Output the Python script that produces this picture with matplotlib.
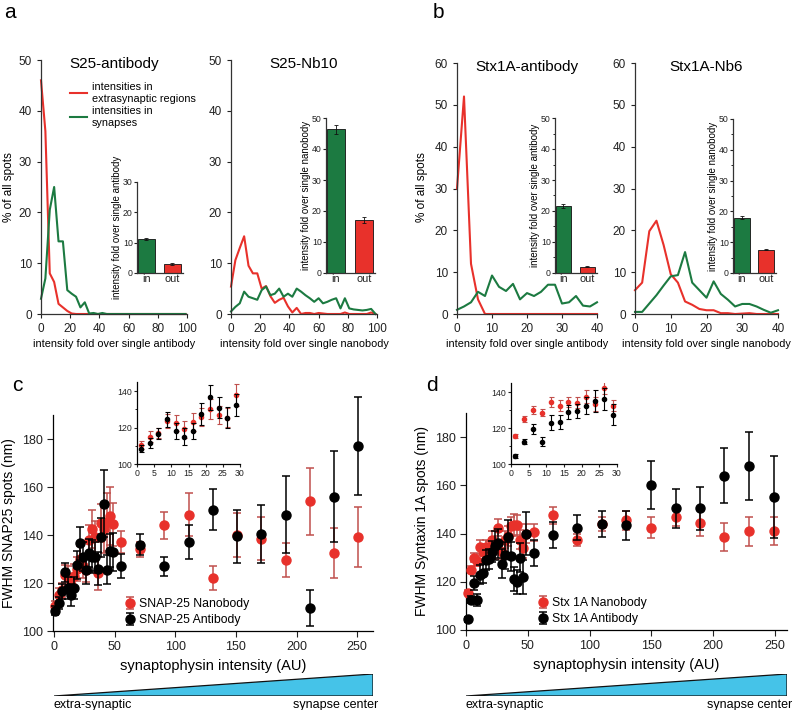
import numpy as np
import matplotlib.pyplot as plt
from matplotlib.lines import Line2D

plt.rcParams['font.family'] = ['Liberation Sans', 'DejaVu Sans']
plt.rcParams['axes.linewidth'] = 0.9

W, H = 800, 710
RED = '#e8312b'
GREEN = '#1c7a41'
ERR_RED = '#c0504d'

# ---------------- histogram data (panel a, b) ----------------
a_bins = np.arange(0, 100, 3)
s25_ab_extra = [46, 36, 8, 6.3, 2, 1.3, 0.6, 0.1, 0, 0, 0, 0, 0, 0, 0, 0, 0,
                0, 0, 0, 0, 0, 0, 0, 0, 0, 0, 0, 0, 0, 0, 0, 0, 0]
s25_ab_syn = [3, 7, 20.5, 25, 14.3, 14.3, 4.7, 4, 3.4, 1.3, 2.3, 0.1, 0.2, 0, 0.2, 0, 0,
              0, 0, 0, 0, 0, 0, 0, 0, 0, 0, 0, 0, 0, 0, 0, 0, 0]
s25_nb_extra = [5.4, 10.6, 13, 15.3, 9.5, 8, 8, 5, 5.5, 3.5, 2.2, 2.8, 3.2, 1.5, 0.3, 1.2, 0,
                0.2, 0.2, 0, 0.2, 0.1, 0, 0, 0, 0, 0.3, 0, 0, 0, 0, 0, 0.3, 0]
s25_nb_syn = [0.5, 1.4, 2.1, 4.4, 3.4, 3.1, 2.8, 4.7, 5.4, 3.7, 4, 5, 3.4, 4, 3.4, 5, 4.4,
              3.7, 3.1, 2.4, 3.1, 2.1, 2.4, 2.8, 3.1, 1.1, 3.1, 1.1, 0.9, 0.8, 0.7, 0.8, 1, 0]

b_bins = np.arange(0, 41, 2)
stx_ab_extra = [30, 52, 12, 3.5, 0, 0, 0, 0, 0, 0, 0, 0, 0, 0, 0, 0, 0, 0, 0, 0, 0]
stx_ab_syn = [1, 1.8, 2.8, 5.3, 4.3, 9.2, 6.5, 5.5, 7.2, 3.5, 5, 4.3, 5.3, 7, 7, 2.5,
              2.8, 4.3, 2, 1.8, 2.8]
stx_nb_extra = [5.7, 7.5, 19.8, 22.3, 16.5, 9.5, 7.5, 3, 2.2, 1.2, 0.9, 0.9, 0.2, 0.2,
                0, 0.1, 0.2, 0, 0, 0, 0]
stx_nb_syn = [0.5, 0.5, 2.5, 4.5, 6.8, 9, 9.3, 14.8, 7.5, 5.7, 3.9, 7.8, 4.8, 3.4, 1.8,
              2.4, 2.4, 1.8, 1, 0.3, 0.9]

# bar insets: (in, out) means and errors
bar_labels = ['in', 'out']
s25_ab_bar, s25_ab_bar_err = [11.2, 3.0], [0.4, 0.2]
s25_nb_bar, s25_nb_bar_err = [46.3, 17.2], [1.5, 1.0]
stx_ab_bar, stx_ab_bar_err = [21.7, 2.0], [0.6, 0.2]
stx_nb_bar, stx_nb_bar_err = [18.0, 7.6], [0.5, 0.2]

# ---------------- FWHM data (panel c, d) ----------------
syp_x = [1.25, 3.75, 6.25, 8.75, 11.25, 13.75, 16.25, 18.75, 21.25, 23.75, 26.25,
         28.75, 31.25, 33.75, 36.25, 38.75, 41.25, 43.75, 46.25, 48.75,
         55, 71, 91, 111, 131, 151, 171, 191, 211, 231, 251]

snap_nb = [110.5, 115, 117, 123.5, 122.5, 119, 123, 126, 130, 127, 125.5, 138, 142.5,
           139, 124, 145, 142.5, 145.5, 148, 144.5,
           137, 134, 144, 148.5, 122, 140, 138.5, 129.5, 154, 132.5, 139]
snap_nb_err = [2, 3, 3, 4, 4.5, 4.5, 5, 5, 5.5, 5, 5, 6, 8, 7, 7, 8, 10, 12, 12, 9,
               4.5, 3, 5.5, 9, 5, 9, 9, 7, 14, 10.5, 12.5]
snap_ab = [108.5, 111.5, 116.5, 124.5, 118, 115, 118, 127.5, 136.5, 131, 125.5, 132.5,
           131, 131, 126, 139, 153, 125.5, 133.5, 133,
           127, 136, 127, 137, 150.5, 139.5, 140.5, 148.5, 109.5, 156, 177]
snap_ab_err = [2, 2.5, 3, 4, 4.5, 4.5, 4.5, 6, 7, 6, 6, 6, 7, 6, 7, 8, 14, 6, 7, 8,
               5, 4.5, 4, 7, 8.5, 11, 12, 16, 7.5, 19, 20.5]

stx_x = [1.25, 3.75, 6.25, 8.75, 11.25, 13.75, 16.25, 18.75, 21.25, 23.75, 26.25,
         28.75, 31.25, 33.75, 36.25, 38.75, 41.25, 43.75, 46.25, 48.75,
         55, 70.5, 90, 110, 129.5, 149.5, 169.5, 189.5, 209, 229, 249]
stx_nb = [115.5, 125, 130, 128.5, 134.5, 132.5, 134.5, 134, 137.5, 133.5, 142.5, 132.5,
          137.5, 139, 143, 143.5, 143.5, 137.5, 134, 140,
          140.5, 147.5, 137.5, 144, 145.5, 142.5, 147, 144.5, 138.5, 141, 141]
stx_nb_err = [1, 1.5, 2, 2, 3, 3, 3, 3, 3.5, 4, 3.5, 3, 3.5, 4, 4, 4.5, 4, 4, 4, 4,
              3.5, 3.5, 2.5, 3, 4, 4.3, 3.8, 5.4, 5.7, 6, 5.7]
stx_ab = [104.5, 112.5, 119.5, 112.5, 123, 123.5, 129, 129.5, 132.5, 135, 136, 127.5,
          131, 138.5, 130.5, 121, 120, 130, 122, 140,
          132, 139.5, 142.5, 144, 143.5, 160, 150.5, 150.5, 164, 168, 155]
stx_ab_err = [1, 1.5, 3, 2.5, 4, 4, 4, 4, 4.5, 6, 6, 6, 5.5, 7, 6, 5, 5, 6, 7, 9,
              5.5, 5.5, 5, 5.5, 6, 10, 8, 9, 11.5, 14, 17]


def px_axes(l, t, r, b):
    return fig.add_axes([l / W, 1 - b / H, (r - l) / W, (b - t) / H])


def clean(ax, color='#333333'):
    for s in ['top', 'right']:
        ax.spines[s].set_visible(False)
    for s in ['left', 'bottom']:
        ax.spines[s].set_color(color)
    ax.tick_params(colors='#222222', direction='out')


def hist_panel(rect, x, extra, syn, xmax, ymax, xstep, title, xlabel):
    ax = px_axes(*rect)
    ax.plot(x, extra, color=RED, lw=1.5, clip_on=False)
    ax.plot(x, syn, color=GREEN, lw=1.5, clip_on=False)
    ax.set_xlim(0, xmax)
    ax.set_ylim(0, ymax)
    ax.set_xticks(np.arange(0, xmax + 1, xstep))
    ax.set_yticks(np.arange(0, ymax + 1, 10))
    ax.tick_params(labelsize=8.5, length=3)
    ax.set_title(title, fontsize=11, pad=0, y=0.97)
    ax.set_xlabel(xlabel, fontsize=7.8, labelpad=3)
    clean(ax)
    return ax


def bar_inset(rect, vals, errs, ymax, ylabel, minor=False):
    ax = px_axes(*rect)
    ax.bar([0, 1], vals, width=0.65, color=[GREEN, RED], edgecolor='#111111',
           linewidth=0.6, yerr=errs, capsize=1.5,
           error_kw=dict(elinewidth=0.6, capthick=0.6, ecolor='#111111'))
    ax.set_xlim(-0.35, 1.4)
    ax.set_ylim(0, ymax)
    ax.set_yticks(np.arange(0, ymax + 1, 10))
    if minor:
        ax.set_yticks(np.arange(5, ymax, 10), minor=True)
    ax.set_xticks([0, 1])
    ax.set_xticklabels(bar_labels, fontsize=7.8)
    ax.tick_params(axis='y', labelsize=6.3, length=2, pad=1)
    ax.tick_params(axis='y', which='minor', length=1.2)
    ax.tick_params(axis='x', length=0, pad=1)
    ax.set_ylabel(ylabel, fontsize=7, labelpad=1)
    clean(ax)
    return ax


fig = plt.figure(figsize=(W / 100, H / 100), dpi=100)

# ---------------- panel a ----------------
ha1 = hist_panel((41, 60, 187, 314), a_bins, s25_ab_extra, s25_ab_syn, 100, 50, 20,
                 'S25-antibody', 'intensity fold over single antibody')
hist_panel((231, 60, 377, 314), a_bins, s25_nb_extra, s25_nb_syn, 100, 50, 20,
           'S25-Nb10', 'intensity fold over single nanobody')
fig.text(9 / W, 1 - 187 / H, '% of all spots', rotation=90, fontsize=8.5,
         va='center', ha='center')
bar_inset((137, 182, 183, 273), s25_ab_bar, s25_ab_bar_err, 30,
          'intensity fold over single antibody')
bar_inset((326, 118, 375, 273), s25_nb_bar, s25_nb_bar_err, 50,
          'intensity fold over single nanobody')

leg_handles = [Line2D([], [], color=RED, lw=1.5), Line2D([], [], color=GREEN, lw=1.5)]
ha1.legend(leg_handles, ['intensities in\nextrasynaptic regions', 'intensities in\nsynapses'],
           loc='upper left', bbox_to_anchor=(0.17, 0.93), frameon=False, fontsize=7.8,
           handlelength=1.6, handletextpad=0.4, labelspacing=0.25, borderaxespad=0)

# ---------------- panel b ----------------
hist_panel((457, 63, 597, 314), b_bins, stx_ab_extra, stx_ab_syn, 40, 60, 10,
           'Stx1A-antibody', 'intensity fold over single antibody')
hist_panel((635, 63, 778, 314), b_bins, stx_nb_extra, stx_nb_syn, 40, 60, 10,
           'Stx1A-Nb6', 'intensity fold over single nanobody')
fig.text(422 / W, 1 - 187 / H, '% of all spots', rotation=90, fontsize=8.5,
         va='center', ha='center')
bar_inset((555, 118, 597, 273), stx_ab_bar, stx_ab_bar_err, 50,
          'intensity fold over single antibody', minor=True)
bar_inset((733, 119, 776, 273), stx_nb_bar, stx_nb_bar_err, 50,
          'intensity fold over single nanobody', minor=True)


# ---------------- panels c, d ----------------
def fwhm_panel(rect, xmin, x, nb, nb_err, ab, ab_err, xmax, ylabel, nb_label, ab_label):
    ax = px_axes(*rect)
    ax.errorbar(x, nb, yerr=nb_err, fmt='o', color=RED, ecolor=ERR_RED, ms=6.5,
                capsize=3, elinewidth=1.1, capthick=1.1, clip_on=False,
                label=nb_label, zorder=3)
    ax.errorbar(x, ab, yerr=ab_err, fmt='o', color='black', ecolor='black', ms=6.5,
                capsize=3, elinewidth=1.1, capthick=1.1, clip_on=False,
                label=ab_label, zorder=4)
    ax.set_xlim(xmin, xmax)
    ax.set_ylim(100, 190)
    ax.set_xticks([0, 50, 100, 150, 200, 250])
    ax.set_yticks([100, 120, 140, 160, 180])
    ax.tick_params(labelsize=9, length=4)
    ax.set_xlabel('synaptophysin intensity (AU)', fontsize=10.5, labelpad=4)
    ax.set_ylabel(ylabel, fontsize=10, labelpad=4)
    clean(ax, 'black')
    ax.legend(loc='lower left', bbox_to_anchor=(0.21, 0.0), frameon=False, fontsize=8.8,
              handlelength=0.8, handletextpad=0.3, labelspacing=0.3, borderaxespad=0)
    return ax


def fwhm_inset(rect, x, nb, nb_err, ab, ab_err):
    ax = px_axes(*rect)
    ax.errorbar(x, nb, yerr=nb_err, fmt='o', color=RED, ecolor=ERR_RED, ms=3,
                capsize=1.8, elinewidth=0.8, capthick=0.8, zorder=3)
    ax.errorbar(x, ab, yerr=ab_err, fmt='o', color='black', ecolor='black', ms=3,
                capsize=1.8, elinewidth=0.8, capthick=0.8, zorder=4)
    ax.set_xlim(0, 30)
    ax.set_ylim(100, 145)
    ax.set_xticks(range(0, 31, 5))
    ax.set_yticks([100, 120, 140])
    ax.set_yticks([110, 130], minor=True)
    ax.tick_params(labelsize=6.3, length=2.5, pad=1)
    ax.tick_params(which='minor', length=1.5)
    clean(ax, 'black')
    return ax


fwhm_panel((53, 415, 373, 631), -0.8, syp_x, snap_nb, snap_nb_err, snap_ab, snap_ab_err,
           263, 'FWHM SNAP25 spots (nm)', 'SNAP-25 Nanobody', 'SNAP-25 Antibody')
fwhm_inset((137, 382, 240, 464), syp_x, snap_nb, snap_nb_err, snap_ab, snap_ab_err)

fwhm_panel((466, 413, 787, 630), 0, stx_x, stx_nb, stx_nb_err, stx_ab, stx_ab_err,
           259.7, 'FWHM Syntaxin 1A spots (nm)', 'Stx 1A Nanobody', 'Stx 1A Antibody')
fwhm_inset((511, 383, 617, 464), stx_x, stx_nb, stx_nb_err, stx_ab, stx_ab_err)

# gradient wedges under c and d
for l, r in [(54, 373), (466, 787)]:
    tax = px_axes(l, 674, r, 696)
    tax.fill([0, 1, 1], [0, 1, 0], color='#45c3e8', edgecolor='#111111', lw=0.9)
    tax.set_xlim(0, 1)
    tax.set_ylim(0, 1)
    tax.axis('off')
    fig.text(l / W, 1 - 705 / H, 'extra-synaptic', fontsize=9, ha='left', va='center')
    fig.text((r + 5) / W, 1 - 705 / H, 'synapse center', fontsize=9, ha='right',
             va='center')

# panel letters
for lab, x, y in [('a', 10, 13), ('b', 438, 13), ('c', 17, 385), ('d', 432, 385)]:
    fig.text(x / W, 1 - y / H, lab, fontsize=15, ha='center', va='center')

fig.savefig('out.png', dpi=100)
